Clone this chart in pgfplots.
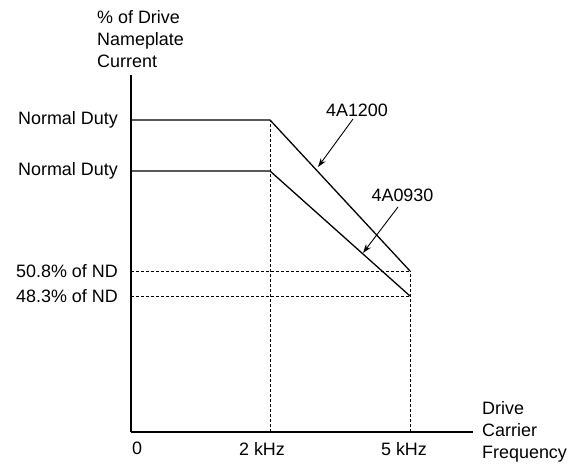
\documentclass[border=0pt]{standalone}
\usepackage{fontspec}
\setmainfont{Liberation Sans}
\usepackage{pgfplots}
\pgfplotsset{compat=1.18}
\usetikzlibrary{arrows.meta}
\begin{document}
\begin{tikzpicture}[font=\fontsize{18}{22}\selectfont]
\useasboundingbox (-131bp,-34bp) rectangle (440bp,432bp);
\begin{axis}[
  at={(0,0)}, anchor=origin,
  scale only axis, width=342bp, height=357bp,
  xmin=0, xmax=342, ymin=0, ymax=357,
  axis lines=left, axis line style={-, line width=1.5bp},
  clip=false,
  /pgf/number format/assume math mode=true,
  xtick={6,131,273},
  xticklabels={0, 2 kHz, 5 kHz},
  ytick={312,261,161,136},
  yticklabels={Normal Duty, Normal Duty, 50.8\% of ND, 48.3\% of ND},
  major tick length=0pt,
  tick label style={font=\fontsize{18}{22}\selectfont},
  yticklabel style={inner sep=0pt, xshift=-13bp},
  xticklabel style={inner sep=0pt, yshift=-10bp},
]
% dashed guide lines
\addplot[black, line width=0.8bp, dash pattern=on 3bp off 2bp] coordinates {(139,0) (139,312)};
\addplot[black, line width=0.8bp, dash pattern=on 3bp off 2bp] coordinates {(279,0) (279,161)};
\addplot[black, line width=0.8bp, dash pattern=on 3bp off 2bp] coordinates {(0,161) (279,161)};
\addplot[black, line width=0.8bp, dash pattern=on 3bp off 2bp] coordinates {(0,136) (279,136)};
% derating curves
\addplot[black, line width=1.3bp] coordinates {(0,312) (139,312) (279,161)};
\addplot[black, line width=1.3bp] coordinates {(0,261) (139,261) (279,136)};
% annotations
\draw[-{Stealth[length=9bp,width=6bp]}, line width=0.9bp] (axis cs:222,313) -- (axis cs:187,265);
\node at (axis cs:226,322) {4A1200};
\draw[-{Stealth[length=9bp,width=6bp]}, line width=0.9bp] (axis cs:267,225) -- (axis cs:232,179);
\node at (axis cs:271.5,237) {4A0930};
\node[anchor=west, align=left, inner sep=0pt] at (axis cs:351,0) {Drive\\Carrier\\Frequency};
\node[anchor=west, align=left, inner sep=0pt] at (axis cs:-34,393) {\% of Drive\\Nameplate\\Current};
\end{axis}
\end{tikzpicture}
\end{document}
